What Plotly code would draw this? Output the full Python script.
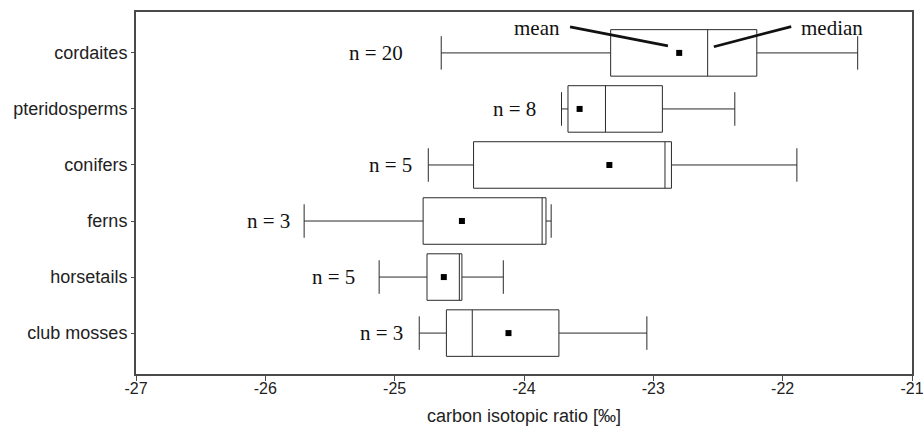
import plotly.graph_objects as go

categories = ["cordaites", "pteridosperms", "conifers", "ferns", "horsetails", "club mosses"]
n_counts = [20, 8, 5, 3, 5, 3]
lower_whisker = [-24.64, -23.71, -24.74, -25.70, -25.12, -24.81]
q1_values = [-23.33, -23.66, -24.39, -24.78, -24.75, -24.60]
median_values = [-22.58, -23.37, -22.91, -23.86, -24.50, -24.40]
q3_values = [-22.20, -22.93, -22.86, -23.83, -24.48, -23.73]
upper_whisker = [-21.42, -22.37, -21.89, -23.79, -24.16, -23.05]
mean_values = [-22.80, -23.57, -23.34, -24.48, -24.62, -24.12]
n_label_x = [-24.92, -23.89, -24.85, -25.79, -25.29, -24.92]
x_ticks = [-27, -26, -25, -24, -23, -22, -21]

fig = go.Figure()
fig.add_trace(go.Box(
    orientation="h",
    y=categories,
    q1=q1_values,
    median=median_values,
    q3=q3_values,
    lowerfence=lower_whisker,
    upperfence=upper_whisker,
    boxpoints=False,
    fillcolor="white",
    line=dict(color="#2a2a2a", width=1),
    whiskerwidth=0.72,
    width=0.83,
    showlegend=False,
    hoverinfo="skip",
))
fig.add_trace(go.Scatter(
    x=mean_values, y=categories, mode="markers",
    marker=dict(symbol="square", size=6, color="black"),
    showlegend=False, hoverinfo="skip",
))

serif = "Liberation Serif"
for cat, n, lx in zip(categories, n_counts, n_label_x):
    fig.add_annotation(x=lx, y=cat, text=f"n = {n}", showarrow=False,
                       xanchor="right", yanchor="middle",
                       font=dict(family=serif, size=21, color="#111"))

# mean / median callouts (cordaites row, index 5 from bottom)
fig.add_shape(type="line", x0=-23.644, y0=5.464, x1=-22.887, y1=5.125,
              line=dict(color="#111", width=2.7))
fig.add_shape(type="line", x0=-22.532, y0=5.11, x1=-21.934, y1=5.47,
              line=dict(color="#111", width=2.7))
fig.add_annotation(x=-23.709, y=5.45, text="mean", showarrow=False,
                   xanchor="right", yanchor="middle",
                   font=dict(family=serif, size=21, color="#111"))
fig.add_annotation(x=-21.877, y=5.45, text="median", showarrow=False,
                   xanchor="left", yanchor="middle",
                   font=dict(family=serif, size=21, color="#111"))

sans = "Liberation Sans"
fig.update_layout(
    width=923, height=429,
    margin=dict(l=136, r=11, t=12, b=55),
    plot_bgcolor="white", paper_bgcolor="white",
    font=dict(family=sans, size=18, color="#222"),
    xaxis=dict(range=[-27, -21], tickvals=x_ticks, ticktext=[str(v) for v in x_ticks],
               showgrid=False, zeroline=False, showline=True, mirror=True,
               linecolor="#4a4a4a", linewidth=2, ticks="outside", ticklen=5,
               tickcolor="#4a4a4a", tickwidth=1, automargin=False,
               ticklabeloverflow="allow", ticklabelstandoff=-6,
               tickfont=dict(family=sans, size=16, color="#222"),
               title=dict(text="carbon isotopic ratio [‰]", standoff=13,
                          font=dict(family=sans, size=18, color="#222"))),
    yaxis=dict(type="category", categoryorder="array", categoryarray=categories[::-1],
               range=[-0.73, 5.73], showgrid=False, zeroline=False, showline=True,
               mirror=True, linecolor="#4a4a4a", linewidth=2, ticks="outside",
               ticklen=3, tickcolor="#4a4a4a", tickwidth=1, automargin=False,
               tickfont=dict(family=sans, size=18, color="#222")),
)

fig.write_html(
    "out.html",
    config={"displayModeBar": False},
    post_script="document.body.style.margin='0';document.body.style.overflow='hidden';",
)
